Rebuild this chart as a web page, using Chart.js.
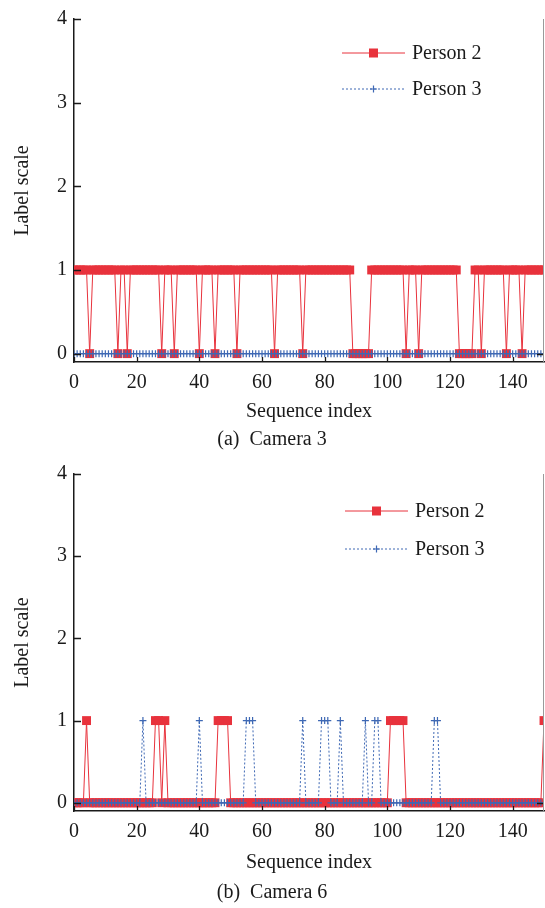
<!DOCTYPE html>
<html>
<head>
<meta charset="utf-8">
<script src="https://cdn.jsdelivr.net/npm/chart.js@4.4.1/dist/chart.umd.min.js"></script>
<style>
  html, body { margin: 0; padding: 0; background: #fff; }
  #wrap { position: relative; width: 545px; height: 908px; }
  canvas { position: absolute; left: 0; }
  #cam3 { top: 0; }
  #cam6 { top: 455px; }
</style>
</head>
<body>
<div id="wrap">
  <canvas id="cam3" width="545" height="455"></canvas>
  <canvas id="cam6" width="545" height="453"></canvas>
</div>
<script>
// sequence index 0..150 (one frame per step)
const seqIndex = Array.from({ length: 151 }, (_, i) => i);
const xTicks = [0, 20, 40, 60, 80, 100, 120, 140];
const yTicks = [0, 1, 2, 3, 4];

// Camera 3 labels
const cam3Person2 = [
  1, 1, 1, 1, 1, 0, 1, 1, 1, 1,
  1, 1, 1, 1, 0, 1, 1, 0, 1, 1,
  1, 1, 1, 1, 1, 1, 1, 1, 0, 1,
  1, 1, 0, 1, 1, 1, 1, 1, 1, 1,
  0, 1, 1, 1, 1, 0, 1, 1, 1, 1,
  1, 1, 0, 1, 1, 1, 1, 1, 1, 1,
  1, 1, 1, 1, 0, 1, 1, 1, 1, 1,
  1, 1, 1, 0, 1, 1, 1, 1, 1, 1,
  1, 1, 1, 1, 1, 1, 1, 1, 1, 0,
  0, 0, 0, 0, 0, 1, 1, 1, 1, 1,
  1, 1, 1, 1, 1, 1, 0, 1, 1, 1,
  0, 1, 1, 1, 1, 1, 1, 1, 1, 1,
  1, 1, 1, 0, 0, 0, 0, 0, 1, 1,
  0, 1, 1, 1, 1, 1, 1, 1, 0, 1,
  1, 1, 1, 0, 1, 1, 1, 1, 1, 1,
  1
];
const cam3Person3 = [
  0, 0, 0, 0, 0, 0, 0, 0, 0, 0,
  0, 0, 0, 0, 0, 0, 0, 0, 0, 0,
  0, 0, 0, 0, 0, 0, 0, 0, 0, 0,
  0, 0, 0, 0, 0, 0, 0, 0, 0, 0,
  0, 0, 0, 0, 0, 0, 0, 0, 0, 0,
  0, 0, 0, 0, 0, 0, 0, 0, 0, 0,
  0, 0, 0, 0, 0, 0, 0, 0, 0, 0,
  0, 0, 0, 0, 0, 0, 0, 0, 0, 0,
  0, 0, 0, 0, 0, 0, 0, 0, 0, 0,
  0, 0, 0, 0, 0, 0, 0, 0, 0, 0,
  0, 0, 0, 0, 0, 0, 0, 0, 0, 0,
  0, 0, 0, 0, 0, 0, 0, 0, 0, 0,
  0, 0, 0, 0, 0, 0, 0, 0, 0, 0,
  0, 0, 0, 0, 0, 0, 0, 0, 0, 0,
  0, 0, 0, 0, 0, 0, 0, 0, 0, 0,
  0
];

// Camera 6 labels
const cam6Person2 = [
  0, 0, 0, 0, 1, 0, 0, 0, 0, 0,
  0, 0, 0, 0, 0, 0, 0, 0, 0, 0,
  0, 0, 0, 0, 0, 0, 1, 1, 0, 1,
  0, 0, 0, 0, 0, 0, 0, 0, 0, 0,
  0, 0, 0, 0, 0, 0, 1, 1, 1, 1,
  0, 0, 0, 0, 0, 0, 0, 0, 0, 0,
  0, 0, 0, 0, 0, 0, 0, 0, 0, 0,
  0, 0, 0, 0, 0, 0, 0, 0, 0, 0,
  0, 0, 0, 0, 0, 0, 0, 0, 0, 0,
  0, 0, 0, 0, 0, 0, 0, 0, 0, 0,
  0, 1, 1, 1, 1, 1, 0, 0, 0, 0,
  0, 0, 0, 0, 0, 0, 0, 0, 0, 0,
  0, 0, 0, 0, 0, 0, 0, 0, 0, 0,
  0, 0, 0, 0, 0, 0, 0, 0, 0, 0,
  0, 0, 0, 0, 0, 0, 0, 0, 0, 0,
  1
];
const cam6Person3 = [
  0, 0, 0, 0, 0, 0, 0, 0, 0, 0,
  0, 0, 0, 0, 0, 0, 0, 0, 0, 0,
  0, 0, 1, 0, 0, 0, 0, 0, 0, 0,
  0, 0, 0, 0, 0, 0, 0, 0, 0, 0,
  1, 0, 0, 0, 0, 0, 0, 0, 0, 0,
  0, 0, 0, 0, 0, 1, 1, 1, 0, 0,
  0, 0, 0, 0, 0, 0, 0, 0, 0, 0,
  0, 0, 0, 1, 0, 0, 0, 0, 0, 1,
  1, 1, 0, 0, 0, 1, 0, 0, 0, 0,
  0, 0, 0, 1, 0, 0, 1, 1, 0, 0,
  0, 0, 0, 0, 0, 0, 0, 0, 0, 0,
  0, 0, 0, 0, 0, 1, 1, 0, 0, 0,
  0, 0, 0, 0, 0, 0, 0, 0, 0, 0,
  0, 0, 0, 0, 0, 0, 0, 0, 0, 0,
  0, 0, 0, 0, 0, 0, 0, 0, 0, 0,
  0
];

const RED = "#e8323c";
const BLUE = "#3e68b4";
const INK = "#1a1a1a";
const serif = { family: "'Liberation Serif', 'Times New Roman', serif", size: 20 };

// inward tick marks, right spine and the in-plot legend
const frame = {
  id: "frame",
  afterDatasetsDraw(chart, args, opts) {
    const { ctx, chartArea: a, scales: { x, y } } = chart;
    ctx.save();
    ctx.strokeStyle = INK;
    ctx.lineWidth = 1.3;
    ctx.beginPath();
    xTicks.forEach(v => {
      const px = Math.round(x.getPixelForValue(v)) + 0.5;
      ctx.moveTo(px, a.bottom);
      ctx.lineTo(px, a.bottom - 5);
    });
    yTicks.forEach(v => {
      const py = Math.round(y.getPixelForValue(v)) + 0.5;
      ctx.moveTo(a.left, py);
      ctx.lineTo(a.left + 7, py);
    });
    const p0 = Math.round(y.getPixelForValue(0)) + 0.5;
    ctx.moveTo(a.right, p0);
    ctx.lineTo(a.right - 7, p0);
    ctx.stroke();

    ctx.strokeStyle = "#9a9a9a";
    ctx.lineWidth = 1;
    ctx.beginPath();
    ctx.moveTo(a.right - 0.5, a.top);
    ctx.lineTo(a.right - 0.5, a.bottom);
    ctx.stroke();

    // legend
    const L = opts.legend;
    ctx.font = `${serif.size}px ${serif.family}`;
    ctx.textBaseline = "middle";
    ctx.fillStyle = INK;
    ctx.fillText("Person 2", L.text, L.y1 + 1);
    ctx.fillText("Person 3", L.text, L.y2 + 1);

    const mid = (L.x0 + L.x1) / 2;
    ctx.strokeStyle = RED;
    ctx.lineWidth = 1;
    ctx.beginPath();
    ctx.moveTo(L.x0, L.y1);
    ctx.lineTo(L.x1, L.y1);
    ctx.stroke();
    ctx.fillStyle = RED;
    ctx.fillRect(mid - 4.5, L.y1 - 4.5, 9, 9);

    ctx.strokeStyle = BLUE;
    ctx.setLineDash([2, 2]);
    ctx.beginPath();
    ctx.moveTo(L.x0, L.y2);
    ctx.lineTo(L.x1, L.y2);
    ctx.stroke();
    ctx.setLineDash([]);
    ctx.lineWidth = 1.2;
    ctx.beginPath();
    ctx.moveTo(mid - 3.5, L.y2);
    ctx.lineTo(mid + 3.5, L.y2);
    ctx.moveTo(mid, L.y2 - 3.5);
    ctx.lineTo(mid, L.y2 + 3.5);
    ctx.stroke();
    ctx.restore();
  }
};

function buildChart(id, person2, person3, caption, g) {
  new Chart(document.getElementById(id), {
    type: "line",
    data: {
      labels: seqIndex,
      datasets: [
        {
          label: "Person 2",
          data: person2,
          borderColor: RED,
          borderWidth: 1,
          backgroundColor: RED,
          pointStyle: "rect",
          pointRadius: 6.3,
          pointBorderWidth: 0,
          pointBackgroundColor: RED,
          tension: 0,
          clip: 0,
          order: 1
        },
        {
          label: "Person 3",
          data: person3,
          borderColor: BLUE,
          borderWidth: 1,
          borderDash: [2, 2],
          pointStyle: "cross",
          pointRadius: 3.5,
          pointBorderWidth: 1.2,
          pointBorderColor: BLUE,
          tension: 0,
          clip: 0,
          order: 0
        }
      ]
    },
    options: {
      responsive: false,
      animation: false,
      events: [],
      layout: { autoPadding: false, padding: { top: g.top, right: 1, left: 0, bottom: 0 } },
      plugins: {
        legend: { display: false },
        tooltip: { enabled: false },
        title: {
          display: true,
          position: "bottom",
          text: caption,
          color: INK,
          font: { ...serif, weight: "normal" },
          padding: { top: 0, bottom: 3 }
        },
        frame: { legend: g.legend }
      },
      scales: {
        x: {
          type: "linear",
          min: 0,
          max: 150,
          grid: { display: false, drawTicks: false },
          border: { display: true, color: INK, width: 1.5 },
          ticks: { color: INK, font: serif, padding: 9, maxRotation: 0 },
          afterBuildTicks: ax => { ax.ticks = xTicks.map(v => ({ value: v })); },
          afterFit: ax => {
            ax.height = g.xh;
            // last tick label is 140, so no overhang to reserve at the ends
            ax.paddingLeft = 0;
            ax.paddingRight = 0;
          },
          title: {
            display: true,
            text: "Sequence index",
            color: INK,
            font: serif,
            padding: { top: 0, bottom: g.xtitle }
          }
        },
        y: {
          min: -0.1,
          max: 4,
          grid: { display: false, drawTicks: false },
          border: { display: true, color: INK, width: 1.5 },
          ticks: { color: INK, font: serif, padding: 7 },
          afterBuildTicks: ax => { ax.ticks = yTicks.map(v => ({ value: v })); },
          afterFit: ax => { ax.width = 74; },
          title: {
            display: true,
            text: "Label scale",
            color: INK,
            font: serif,
            padding: { top: 11, bottom: 0 }
          }
        }
      }
    },
    plugins: [frame]
  });
}

buildChart("cam3", cam3Person2, cam3Person3, "(a)  Camera 3", {
  top: 17, xh: 66, xtitle: 4,
  legend: { x0: 342, x1: 405, text: 412, y1: 53, y2: 89 }
});
buildChart("cam6", cam6Person2, cam6Person3, "(b)  Camera 6", {
  top: 14, xh: 70, xtitle: 6,
  legend: { x0: 345, x1: 408, text: 415, y1: 56, y2: 94 }
});
</script>
</body>
</html>
